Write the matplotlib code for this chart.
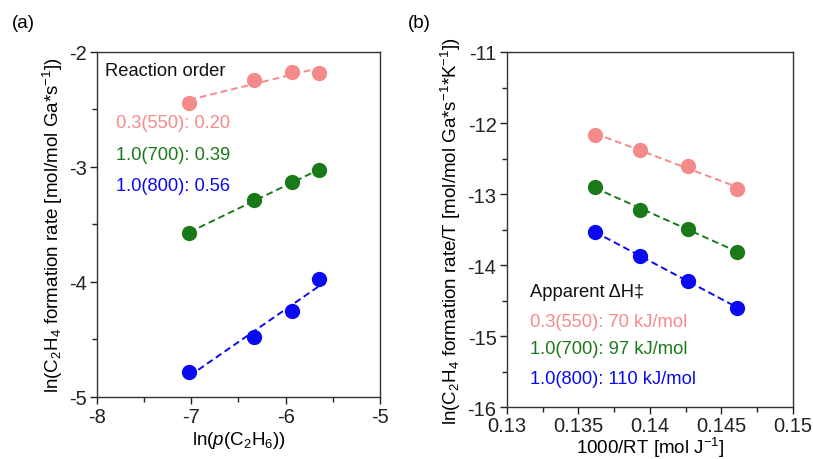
import numpy as np
import matplotlib
matplotlib.use("Agg")
import matplotlib.pyplot as plt
from matplotlib.ticker import MultipleLocator, FuncFormatter

plt.rcParams['font.family'] = ['Liberation Sans', 'DejaVu Sans']
plt.rcParams['mathtext.fontset'] = 'custom'
plt.rcParams['mathtext.rm'] = 'Liberation Sans'
plt.rcParams['mathtext.it'] = 'Liberation Sans:italic'
plt.rcParams['mathtext.bf'] = 'Liberation Sans:bold'
plt.rcParams['axes.unicode_minus'] = False

# Panel (a) data
lnp = [-7.02, -6.335, -5.93, -5.65]
a_550 = [-2.44, -2.24, -2.17, -2.18]
a_700 = [-3.57, -3.29, -3.13, -3.03]
a_800 = [-4.78, -4.48, -4.25, -3.97]
a_labels = ["0.3(550): 0.20", "1.0(700): 0.39", "1.0(800): 0.56"]

# Panel (b) data
invRT = [0.13615, 0.1393, 0.14264, 0.14611]
b_550 = [-12.165, -12.375, -12.60, -12.93]
b_700 = [-12.90, -13.22, -13.49, -13.81]
b_800 = [-13.535, -13.87, -14.22, -14.60]
b_labels = ["0.3(550): 70 kJ/mol", "1.0(700): 97 kJ/mol", "1.0(800): 110 kJ/mol"]

colors = ['#F58A8A', '#1A7A1A', '#0A0AF0']

fig = plt.figure(figsize=(8.13, 4.6), dpi=100)
ax1 = fig.add_axes([0.1193, 0.1348, 0.3481, 0.75])
ax2 = fig.add_axes([0.6236, 0.1125, 0.3518, 0.7723])

def draw(ax, x, series):
    x = np.array(x)
    for ys, c in zip(series, colors):
        ys = np.array(ys)
        k, b = np.polyfit(x, ys, 1)
        ax.plot(x[[0, -1]], k * x[[0, -1]] + b, color=c, lw=1.4, ls=(0, (3.5, 2)))
        ax.plot(x, ys, 'o', color=c, ms=11, mec='none')

draw(ax1, lnp, [a_550, a_700, a_800])
draw(ax2, invRT, [b_550, b_700, b_800])

ax1.set_xlim(-8, -5)
ax1.set_ylim(-5, -2)
ax1.xaxis.set_major_locator(MultipleLocator(1))
ax1.xaxis.set_minor_locator(MultipleLocator(0.5))
ax1.yaxis.set_major_locator(MultipleLocator(1))
ax1.yaxis.set_minor_locator(MultipleLocator(0.5))

ax2.set_xlim(0.13, 0.15)
ax2.set_ylim(-16, -11)
ax2.xaxis.set_major_locator(MultipleLocator(0.005))
ax2.xaxis.set_minor_locator(MultipleLocator(0.0025))
ax2.yaxis.set_major_locator(MultipleLocator(1))
ax2.yaxis.set_minor_locator(MultipleLocator(0.5))

for ax in (ax1, ax2):
    ax.tick_params(which='both', direction='out', top=False, right=False, labelsize=14.5,
                   colors='#222222', pad=2.5)
    ax.tick_params(which='major', length=5, width=1)
    ax.tick_params(which='minor', length=3.5, width=1)
    for s in ax.spines.values():
        s.set_linewidth(1.0)
        s.set_color('#333333')
ax2.tick_params(axis='x', pad=1.5)

ax1.xaxis.set_major_formatter(FuncFormatter(lambda v, p: '%d' % v))
ax1.yaxis.set_major_formatter(FuncFormatter(lambda v, p: '%d' % v))
ax2.yaxis.set_major_formatter(FuncFormatter(lambda v, p: '%d' % v))
ax2.xaxis.set_major_formatter(FuncFormatter(lambda v, p: ('%.3f' % v).rstrip('0')))

ax1.set_xlabel(r"ln($p$(C$_2$H$_6$))", fontsize=13.5, labelpad=2)
ax1.set_ylabel(r"ln(C$_2$H$_4$ formation rate [mol/mol Ga*s$^{-1}$])", fontsize=13.5, labelpad=3)
ax2.set_xlabel(r"1000/RT [mol J$^{-1}$]", fontsize=13.5, labelpad=-0.5)
ax2.set_ylabel(r"ln(C$_2$H$_4$ formation rate/T [mol/mol Ga*s$^{-1}$*K$^{-1}$])", fontsize=13.5, labelpad=3)

fs = 13.2
ax1.text(0.028, 0.945, "Reaction order", transform=ax1.transAxes, fontsize=fs, va='center', color='#111111')
for y, t, c in zip([0.797, 0.704, 0.612], a_labels, colors):
    ax1.text(0.068, y, t, transform=ax1.transAxes, fontsize=fs, va='center', color=c)

ax2.text(0.080, 0.326, "Apparent ΔH‡", transform=ax2.transAxes, fontsize=fs, va='center', color='#111111')
for y, t, c in zip([0.242, 0.164, 0.081], b_labels, colors):
    ax2.text(0.080, y, t, transform=ax2.transAxes, fontsize=fs, va='center', color=c)

fig.text(12 / 813, 1 - 24 / 460, "(a)", fontsize=13.5, va='center', ha='left')
fig.text(408 / 813, 1 - 24 / 460, "(b)", fontsize=13.5, va='center', ha='left')

fig.savefig("out.png", dpi=100)
